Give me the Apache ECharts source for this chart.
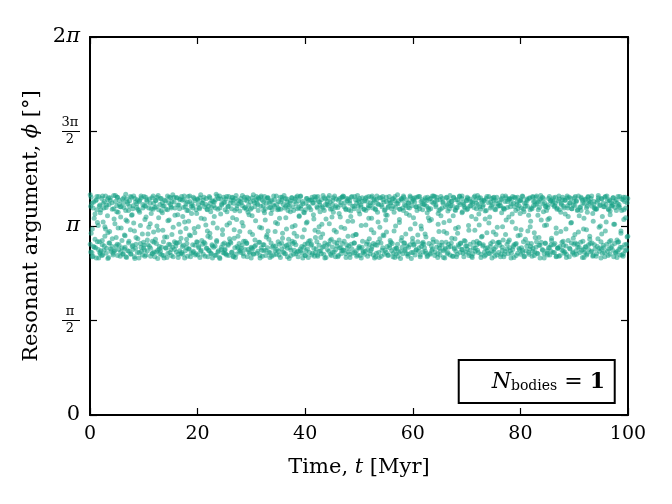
<!DOCTYPE html>
<html>
<head>
<meta charset="utf-8">
<script src="https://cdn.jsdelivr.net/npm/echarts@6/dist/echarts.min.js"></script>
<style>
  html, body { margin: 0; padding: 0; background: #fff; }
  #chart { width: 672px; height: 504px; }
</style>
</head>
<body>
<div id="chart"></div>
<script>
// output times [Myr]
const times = [
  0.04,0.13,0.21,0.36,0.42,0.57,0.66,0.78,0.93,
  1.05,1.19,1.27,1.38,1.53,1.61,1.74,1.82,1.91,
  2.03,2.17,2.28,2.34,2.44,2.58,2.67,2.76,2.89,
  3.00,3.10,3.25,3.32,3.45,3.54,3.65,3.77,3.87,
  4.08,4.14,4.29,4.41,4.48,4.63,4.71,4.86,4.97,
  5.06,5.11,5.23,5.39,5.46,5.62,5.70,5.79,5.94,
  6.07,6.18,6.31,6.40,6.52,6.64,6.68,6.80,6.92,
  7.02,7.16,7.24,7.35,7.51,7.59,7.72,7.84,7.95,
  8.01,8.12,8.26,8.33,8.47,8.55,8.69,8.81,8.88,
  9.09,9.15,9.22,9.37,9.49,9.56,9.73,9.83,9.96,
  10.04,10.13,10.21,10.36,10.42,10.57,10.66,10.78,10.93,
  11.05,11.19,11.27,11.38,11.53,11.61,11.74,11.82,11.91,
  12.03,12.17,12.28,12.34,12.44,12.58,12.67,12.76,12.89,
  13.00,13.10,13.25,13.32,13.45,13.54,13.65,13.77,13.87,
  14.08,14.14,14.29,14.41,14.48,14.63,14.71,14.86,14.97,
  15.06,15.11,15.23,15.39,15.46,15.62,15.70,15.79,15.94,
  16.07,16.18,16.31,16.40,16.52,16.64,16.68,16.80,16.92,
  17.02,17.16,17.24,17.35,17.51,17.59,17.72,17.84,17.95,
  18.01,18.12,18.26,18.33,18.47,18.55,18.69,18.81,18.88,
  19.09,19.15,19.22,19.37,19.49,19.56,19.73,19.83,19.96,
  20.04,20.13,20.21,20.36,20.42,20.57,20.66,20.78,20.93,
  21.05,21.19,21.27,21.38,21.53,21.61,21.74,21.82,21.91,
  22.03,22.17,22.28,22.34,22.44,22.58,22.67,22.76,22.89,
  23.00,23.10,23.25,23.32,23.45,23.54,23.65,23.77,23.87,
  24.08,24.14,24.29,24.41,24.48,24.63,24.71,24.86,24.97,
  25.06,25.11,25.23,25.39,25.46,25.62,25.70,25.79,25.94,
  26.07,26.18,26.31,26.40,26.52,26.64,26.68,26.80,26.92,
  27.02,27.16,27.24,27.35,27.51,27.59,27.72,27.84,27.95,
  28.01,28.12,28.26,28.33,28.47,28.55,28.69,28.81,28.88,
  29.09,29.15,29.22,29.37,29.49,29.56,29.73,29.83,29.96,
  30.04,30.13,30.21,30.36,30.42,30.57,30.66,30.78,30.93,
  31.05,31.19,31.27,31.38,31.53,31.61,31.74,31.82,31.91,
  32.03,32.17,32.28,32.34,32.44,32.58,32.67,32.76,32.89,
  33.00,33.10,33.25,33.32,33.45,33.54,33.65,33.77,33.87,
  34.08,34.14,34.29,34.41,34.48,34.63,34.71,34.86,34.97,
  35.06,35.11,35.23,35.39,35.46,35.62,35.70,35.79,35.94,
  36.07,36.18,36.31,36.40,36.52,36.64,36.68,36.80,36.92,
  37.02,37.16,37.24,37.35,37.51,37.59,37.72,37.84,37.95,
  38.01,38.12,38.26,38.33,38.47,38.55,38.69,38.81,38.88,
  39.09,39.15,39.22,39.37,39.49,39.56,39.73,39.83,39.96,
  40.04,40.13,40.21,40.36,40.42,40.57,40.66,40.78,40.93,
  41.05,41.19,41.27,41.38,41.53,41.61,41.74,41.82,41.91,
  42.03,42.17,42.28,42.34,42.44,42.58,42.67,42.76,42.89,
  43.00,43.10,43.25,43.32,43.45,43.54,43.65,43.77,43.87,
  44.08,44.14,44.29,44.41,44.48,44.63,44.71,44.86,44.97,
  45.06,45.11,45.23,45.39,45.46,45.62,45.70,45.79,45.94,
  46.07,46.18,46.31,46.40,46.52,46.64,46.68,46.80,46.92,
  47.02,47.16,47.24,47.35,47.51,47.59,47.72,47.84,47.95,
  48.01,48.12,48.26,48.33,48.47,48.55,48.69,48.81,48.88,
  49.09,49.15,49.22,49.37,49.49,49.56,49.73,49.83,49.96,
  50.04,50.13,50.21,50.36,50.42,50.57,50.66,50.78,50.93,
  51.05,51.19,51.27,51.38,51.53,51.61,51.74,51.82,51.91,
  52.03,52.17,52.28,52.34,52.44,52.58,52.67,52.76,52.89,
  53.00,53.10,53.25,53.32,53.45,53.54,53.65,53.77,53.87,
  54.08,54.14,54.29,54.41,54.48,54.63,54.71,54.86,54.97,
  55.06,55.11,55.23,55.39,55.46,55.62,55.70,55.79,55.94,
  56.07,56.18,56.31,56.40,56.52,56.64,56.68,56.80,56.92,
  57.02,57.16,57.24,57.35,57.51,57.59,57.72,57.84,57.95,
  58.01,58.12,58.26,58.33,58.47,58.55,58.69,58.81,58.88,
  59.09,59.15,59.22,59.37,59.49,59.56,59.73,59.83,59.96,
  60.04,60.13,60.21,60.36,60.42,60.57,60.66,60.78,60.93,
  61.05,61.19,61.27,61.38,61.53,61.61,61.74,61.82,61.91,
  62.03,62.17,62.28,62.34,62.44,62.58,62.67,62.76,62.89,
  63.00,63.10,63.25,63.32,63.45,63.54,63.65,63.77,63.87,
  64.08,64.14,64.29,64.41,64.48,64.63,64.71,64.86,64.97,
  65.06,65.11,65.23,65.39,65.46,65.62,65.70,65.79,65.94,
  66.07,66.18,66.31,66.40,66.52,66.64,66.68,66.80,66.92,
  67.02,67.16,67.24,67.35,67.51,67.59,67.72,67.84,67.95,
  68.01,68.12,68.26,68.33,68.47,68.55,68.69,68.81,68.88,
  69.09,69.15,69.22,69.37,69.49,69.56,69.73,69.83,69.96,
  70.04,70.13,70.21,70.36,70.42,70.57,70.66,70.78,70.93,
  71.05,71.19,71.27,71.38,71.53,71.61,71.74,71.82,71.91,
  72.03,72.17,72.28,72.34,72.44,72.58,72.67,72.76,72.89,
  73.00,73.10,73.25,73.32,73.45,73.54,73.65,73.77,73.87,
  74.08,74.14,74.29,74.41,74.48,74.63,74.71,74.86,74.97,
  75.06,75.11,75.23,75.39,75.46,75.62,75.70,75.79,75.94,
  76.07,76.18,76.31,76.40,76.52,76.64,76.68,76.80,76.92,
  77.02,77.16,77.24,77.35,77.51,77.59,77.72,77.84,77.95,
  78.01,78.12,78.26,78.33,78.47,78.55,78.69,78.81,78.88,
  79.09,79.15,79.22,79.37,79.49,79.56,79.73,79.83,79.96,
  80.04,80.13,80.21,80.36,80.42,80.57,80.66,80.78,80.93,
  81.05,81.19,81.27,81.38,81.53,81.61,81.74,81.82,81.91,
  82.03,82.17,82.28,82.34,82.44,82.58,82.67,82.76,82.89,
  83.00,83.10,83.25,83.32,83.45,83.54,83.65,83.77,83.87,
  84.08,84.14,84.29,84.41,84.48,84.63,84.71,84.86,84.97,
  85.06,85.11,85.23,85.39,85.46,85.62,85.70,85.79,85.94,
  86.07,86.18,86.31,86.40,86.52,86.64,86.68,86.80,86.92,
  87.02,87.16,87.24,87.35,87.51,87.59,87.72,87.84,87.95,
  88.01,88.12,88.26,88.33,88.47,88.55,88.69,88.81,88.88,
  89.09,89.15,89.22,89.37,89.49,89.56,89.73,89.83,89.96,
  90.04,90.13,90.21,90.36,90.42,90.57,90.66,90.78,90.93,
  91.05,91.19,91.27,91.38,91.53,91.61,91.74,91.82,91.91,
  92.03,92.17,92.28,92.34,92.44,92.58,92.67,92.76,92.89,
  93.00,93.10,93.25,93.32,93.45,93.54,93.65,93.77,93.87,
  94.08,94.14,94.29,94.41,94.48,94.63,94.71,94.86,94.97,
  95.06,95.11,95.23,95.39,95.46,95.62,95.70,95.79,95.94,
  96.07,96.18,96.31,96.40,96.52,96.64,96.68,96.80,96.92,
  97.02,97.16,97.24,97.35,97.51,97.59,97.72,97.84,97.95,
  98.01,98.12,98.26,98.33,98.47,98.55,98.69,98.81,98.88,
  99.09,99.15,99.22,99.37,99.49,99.56,99.73,99.83,99.96
];

// resonant argument [rad], first sample at each output time
const phiA = [
  3.66,2.71,3.02,3.52,2.63,3.44,2.80,3.27,2.92,
  2.78,3.58,3.63,2.88,3.15,2.61,3.47,2.70,3.36,
  3.41,2.65,2.83,3.64,3.21,2.74,3.55,2.97,3.09,
  2.69,3.49,3.31,2.60,3.61,2.86,3.05,3.57,2.76,
  3.53,2.93,2.66,3.43,2.72,3.18,3.65,2.81,3.38,
  2.84,3.62,3.11,2.75,3.50,2.64,3.29,3.46,2.90,
  3.59,2.68,3.45,2.99,2.79,3.67,3.24,2.62,3.54,
  2.73,3.40,2.89,3.56,3.08,2.67,3.62,3.33,2.82,
  3.48,3.19,2.63,3.60,2.77,2.95,3.51,2.70,3.42,
  2.61,3.55,3.37,2.85,3.64,2.72,3.01,3.44,2.78,
  3.63,2.74,3.25,3.47,2.66,3.58,2.91,2.83,3.12,
  2.80,3.52,2.64,3.35,3.61,2.69,3.42,3.04,2.87,
  3.45,2.92,3.57,2.71,3.14,2.60,3.65,3.28,2.76,
  2.68,3.60,3.39,2.79,3.53,3.07,2.65,3.48,2.96,
  3.56,2.77,2.62,3.41,3.23,2.84,3.62,2.70,3.50,
  2.75,3.44,3.00,3.66,2.63,3.54,2.88,3.32,2.81,
  3.61,2.86,3.49,2.67,3.17,3.43,2.73,3.59,2.94,
  2.70,3.57,3.30,2.82,3.64,2.61,3.46,3.10,2.78,
  3.40,2.64,3.63,3.22,2.76,3.55,2.98,2.69,3.51,
  2.83,3.48,2.72,3.60,3.03,2.66,3.41,3.35,2.87,
  3.58,3.13,2.80,3.45,2.62,3.66,2.74,2.90,3.52,
  2.67,3.62,3.26,2.85,3.50,2.77,3.42,3.06,2.63,
  3.47,2.73,3.61,2.95,3.38,2.68,3.56,2.81,3.19,
  2.79,3.54,2.65,3.44,3.67,2.88,3.11,2.71,3.60,
  3.64,2.60,3.34,2.75,3.49,3.00,2.84,3.53,2.69,
  2.74,3.41,3.59,2.66,3.16,3.46,2.82,3.63,2.93,
  3.52,2.86,2.70,3.62,3.28,2.64,3.57,3.08,2.78,
  2.62,3.65,3.43,2.80,2.97,3.51,2.72,3.39,3.55,
  3.60,2.77,3.20,3.48,2.68,2.89,3.62,2.75,3.45,
  2.85,3.56,2.63,3.37,3.60,2.71,3.04,3.42,2.79,
  3.44,3.31,2.76,3.66,2.67,3.53,2.91,2.82,3.58,
  2.69,3.50,3.61,2.87,3.12,2.61,3.47,3.64,2.74,
  3.57,2.83,3.40,2.73,3.63,3.24,2.65,3.52,2.99,
  2.78,3.61,2.92,3.45,2.70,3.55,3.35,2.64,3.41,
  3.49,2.66,3.58,3.05,2.81,3.64,2.75,3.18,3.44,
  2.72,3.42,3.27,2.62,3.54,2.86,3.62,2.94,3.50,
  3.65,2.80,2.68,3.47,3.09,3.59,2.77,3.40,2.84,
  2.60,3.53,3.38,2.74,3.61,2.89,3.46,2.67,3.02,
  3.55,3.15,2.83,3.62,2.71,3.43,2.63,3.56,3.30,
  2.76,3.64,3.48,2.69,2.96,3.51,2.79,3.36,2.65,
  3.41,2.73,3.60,3.21,2.85,2.62,3.57,3.45,2.90,
  2.82,3.58,2.66,3.52,3.33,2.77,3.63,3.07,2.70,
  3.62,2.88,3.44,2.64,3.55,3.13,2.72,3.49,2.95,
  2.68,3.46,3.01,3.65,2.80,3.40,2.61,3.59,3.26,
  3.50,2.75,3.61,2.84,3.18,3.54,2.67,2.92,3.43,
  2.79,3.57,3.37,2.71,3.64,2.63,3.48,3.04,2.86,
  3.45,2.65,2.91,3.60,3.29,2.78,3.53,2.73,3.62,
  2.74,3.63,3.46,3.10,2.68,3.41,2.83,3.56,2.97,
  3.59,2.81,3.52,2.62,3.39,3.62,2.76,3.22,2.69,
  2.86,3.43,2.70,3.58,3.00,2.64,3.65,3.47,2.78,
  3.54,3.34,2.77,3.49,2.61,3.61,2.89,2.72,3.42,
  2.67,3.60,3.16,2.84,3.55,2.75,3.44,3.63,2.93,
  3.48,2.73,3.62,3.27,2.80,3.52,2.66,3.03,3.57,
  2.83,3.41,2.69,3.64,3.37,2.87,3.50,2.62,3.12,
  3.61,2.64,3.46,2.78,3.58,2.98,3.40,2.74,3.24,
  2.70,3.55,3.32,2.65,3.47,3.63,2.82,2.90,3.53,
  3.43,2.85,2.63,3.60,3.06,2.76,3.56,3.45,2.68,
  2.77,3.66,3.51,2.71,3.20,3.42,2.60,3.59,2.95,
  3.57,2.68,3.40,3.62,2.86,2.73,3.48,3.35,2.81,
  2.64,3.52,2.79,3.44,3.64,3.09,2.70,3.55,2.88,
  3.60,3.28,2.84,3.54,2.66,3.46,2.75,3.62,2.99,
  2.72,3.47,3.63,2.63,3.14,2.80,3.58,3.41,2.87,
  3.50,2.78,3.01,3.61,2.69,3.56,3.36,2.65,3.44,
  2.85,3.59,2.67,3.43,3.25,2.74,3.64,2.92,3.52,
  3.63,2.71,3.49,2.88,3.57,2.62,3.17,3.40,2.77,
  2.66,3.42,3.31,2.82,3.60,3.54,2.73,3.05,2.61,
  3.46,2.87,3.62,2.68,3.39,2.79,3.51,3.23,3.65,
  2.80,3.55,2.94,3.48,2.64,3.61,2.76,3.41,3.10,
  3.58,2.63,3.45,3.02,2.83,3.53,3.63,2.70,2.86,
  2.75,3.64,3.38,2.69,3.50,2.90,3.44,2.81,3.57,
  3.41,2.76,3.60,3.15,2.65,3.47,2.84,3.55,3.30,
  2.62,3.52,2.78,3.62,3.07,2.72,3.58,3.43,2.89,
  3.65,2.70,3.34,2.86,3.46,3.61,2.67,2.96,3.54,
  2.81,3.49,3.57,2.64,3.26,2.77,3.40,3.63,2.73,
  3.53,3.19,2.68,3.44,2.85,3.60,2.61,3.50,3.04,
  2.71,3.62,3.42,2.79,3.56,2.66,3.12,3.47,2.87,
  3.48,2.82,2.63,3.58,3.36,2.74,3.64,2.91,3.43,
  2.67,3.55,3.00,3.61,2.76,3.45,2.88,3.29,3.59,
  3.60,2.73,3.51,2.69,3.21,3.63,2.80,2.62,3.46,
  2.84,3.40,2.65,3.54,3.62,2.98,3.48,2.75,3.35,
  3.56,3.08,2.78,3.64,2.70,3.42,2.63,3.52,2.92,
  2.73,3.59,3.47,2.86,3.32,2.67,3.61,3.13,2.80,
  3.44,2.64,3.63,2.77,3.55,3.03,2.71,3.49,3.62,
  2.88,3.51,2.68,3.41,2.95,3.57,2.82,3.65,3.24,
  3.62,2.74,3.38,2.61,3.53,2.85,3.46,3.16,2.69,
  2.66,3.45,3.60,3.27,2.79,3.56,2.72,2.94,3.50,
  3.54,2.83,2.70,3.48,3.62,3.11,2.64,3.42,2.77,
  2.78,3.64,3.41,2.65,3.05,3.52,2.87,3.58,2.73,
  3.47,2.69,3.57,3.34,2.81,2.62,3.61,3.44,2.90,
  2.63,3.53,2.76,3.60,3.20,3.43,2.71,3.49,2.84,
  3.61,3.00,2.86,3.55,2.67,3.40,2.79,3.64,3.31,
  2.70,3.46,3.62,2.74,3.57,2.89,3.09,2.62,3.51,
  3.58,2.80,3.44,2.66,3.37,3.63,2.75,3.52,2.97,
  2.85,3.60,2.72,3.47,2.64,3.22,3.55,2.83,3.42,
  3.43,2.68,3.54,2.93,3.65,2.77,3.48,3.14,2.61,
  2.76,3.59,3.30,2.82,3.46,2.70,3.62,3.06,3.50,
  3.64,2.72,2.65,3.41,2.88,3.56,3.39,2.78,3.53,
  2.81,3.50,3.61,2.63,3.17,3.45,2.69,3.58,2.91,
  3.52,2.87,3.47,2.75,3.63,2.66,3.02,3.40,2.79,
  2.64,3.62,3.25,3.55,2.73,3.44,2.84,2.96,3.60
];

// resonant argument [rad], second sample at each output time
const phiB = [
  2.84,3.47,3.62,2.70,3.09,2.64,3.54,2.79,3.34,
  3.56,2.61,3.41,3.20,2.75,3.63,2.88,3.49,2.68,
  2.73,3.60,2.90,2.66,3.52,3.44,2.81,3.13,3.64,
  3.45,2.77,3.58,3.03,2.62,3.50,2.86,3.61,2.72,
  2.80,3.42,2.69,3.65,3.26,2.74,3.55,2.95,3.48,
  3.62,2.65,3.37,2.83,3.57,3.46,2.71,3.11,2.78,
  2.67,3.53,3.61,2.76,2.98,3.40,2.63,3.59,3.22,
  3.51,2.86,2.72,3.47,3.63,2.68,3.32,2.80,3.43,
  2.75,3.64,3.06,2.60,3.54,2.84,3.45,3.58,2.93,
  3.40,2.70,3.57,3.15,2.79,3.61,2.66,3.50,2.87,
  2.82,3.48,2.64,3.62,3.29,3.55,2.73,3.01,3.44,
  3.59,3.18,2.77,3.43,2.68,2.89,3.64,3.52,2.71,
  2.63,3.56,3.46,2.85,3.62,2.74,3.07,3.41,2.80,
  3.50,2.72,3.60,2.66,3.36,3.47,2.88,2.61,3.57,
  2.78,3.42,2.96,3.64,2.69,3.53,3.24,2.83,3.61,
  3.46,2.65,3.55,2.79,3.12,3.62,2.75,3.44,2.86,
  2.71,3.61,3.33,2.62,3.49,2.87,3.58,3.04,2.68,
  3.63,2.80,2.67,3.45,3.58,3.21,2.73,3.51,2.92,
  2.85,3.54,3.40,2.76,2.99,3.64,2.63,3.47,3.35,
  3.44,2.70,3.62,3.10,2.82,3.56,2.68,2.88,3.59,
  2.66,3.50,2.78,3.43,3.61,2.72,3.27,3.53,2.84,
  3.57,2.87,3.46,2.64,3.16,3.60,2.77,3.41,2.97,
  2.74,3.63,3.02,3.52,2.69,3.45,2.83,2.61,3.55,
  3.48,3.30,2.81,3.58,2.66,2.90,3.64,3.42,2.73,
  2.62,3.44,3.59,2.79,3.51,3.08,2.70,3.62,2.86,
  3.54,2.76,2.68,3.63,3.38,2.84,3.47,2.65,3.19,
  2.88,3.57,3.43,2.71,3.61,2.63,3.52,2.94,3.40,
  3.60,2.67,3.25,3.48,2.78,3.56,2.85,3.05,2.74,
  2.70,3.53,2.82,3.65,3.14,2.64,3.44,3.58,2.89,
  3.42,2.86,3.62,2.75,3.49,3.33,2.69,3.54,2.61,
  2.77,3.61,3.00,2.68,3.56,2.80,3.46,3.23,3.63,
  3.52,2.72,3.40,3.59,2.87,2.65,3.62,2.78,3.11,
  2.64,3.48,3.55,2.83,3.36,3.43,2.74,2.96,3.60,
  3.61,3.06,2.70,3.53,2.62,3.45,2.86,3.57,2.79,
  2.81,3.64,3.47,2.73,3.20,2.67,3.50,3.41,2.88,
  3.55,2.66,2.84,3.62,3.42,2.76,3.58,3.02,2.71,
  2.69,3.44,3.60,3.28,2.82,3.54,2.63,3.49,2.92,
  3.46,2.78,3.56,2.65,3.61,3.13,2.85,3.40,2.74,
  2.87,3.59,2.68,3.51,2.97,3.64,2.72,3.45,3.31,
  3.63,2.73,3.43,2.80,3.55,2.61,3.37,3.08,2.84,
  2.65,3.52,3.19,3.60,2.76,3.47,2.89,2.70,3.57,
  3.41,2.84,3.62,2.69,3.53,3.26,2.64,3.58,2.95,
  2.76,3.46,2.66,3.63,3.04,2.82,3.54,3.38,2.73,
  3.58,3.17,2.79,3.44,2.67,3.61,2.86,3.50,2.62,
  2.83,3.55,3.48,2.72,3.65,2.90,3.42,2.65,3.29,
  3.50,2.70,3.61,3.07,2.87,3.45,2.75,3.59,2.81,
  2.63,3.57,3.35,2.78,3.49,2.68,3.12,3.62,2.85,
  3.64,2.74,2.89,3.53,3.43,2.62,3.60,2.77,3.22,
  2.71,3.41,3.56,2.67,3.30,2.84,3.63,3.47,2.98,
  3.47,2.86,3.63,3.00,2.73,3.52,2.66,3.57,3.39,
  2.80,3.60,2.65,3.46,3.15,2.79,3.55,2.70,3.42,
  3.56,2.72,3.40,3.62,2.88,2.64,3.48,3.27,2.83,
  2.68,3.53,3.08,2.76,3.64,3.44,2.85,3.59,2.61,
  3.43,2.63,3.58,2.82,3.51,3.21,2.70,3.61,2.93,
  2.86,3.49,2.74,3.63,2.99,3.54,2.67,3.41,3.33,
  3.62,3.04,2.80,3.45,2.66,3.57,2.78,3.52,2.87,
  2.73,3.59,3.47,2.69,3.37,2.62,3.63,3.14,2.77,
  3.52,2.84,2.64,3.56,3.25,3.42,2.72,2.90,3.60,
  2.79,3.44,3.64,2.86,3.50,2.75,3.01,3.58,2.68,
  3.45,2.67,3.53,3.32,2.83,3.62,2.60,3.48,2.94,
  2.70,3.57,2.82,3.61,3.18,2.74,3.46,3.40,2.88,
  3.63,2.78,3.43,2.66,3.55,3.09,2.85,3.51,2.71,
  2.84,3.50,3.58,2.72,2.96,3.47,2.63,3.62,3.28,
  3.41,3.23,2.69,3.60,2.81,3.54,2.76,2.87,3.64,
  2.65,3.55,3.46,2.79,3.62,2.68,3.35,3.05,2.82,
  3.58,2.73,3.63,2.87,3.44,3.52,2.62,3.20,2.75,
  2.77,3.61,3.02,3.49,2.70,2.84,3.57,3.43,2.66,
  3.48,2.86,3.55,2.64,3.31,3.62,2.78,2.93,3.40,
  2.72,3.45,2.67,3.58,3.12,2.80,3.64,3.50,2.85,
  3.60,3.36,2.75,3.53,2.63,3.46,2.89,2.71,3.56,
  2.81,3.62,3.43,2.69,3.07,3.59,2.74,3.48,2.64,
  3.54,2.68,2.87,3.45,3.64,2.77,3.26,3.52,2.83,
  2.74,3.50,3.61,3.16,2.85,3.42,2.62,3.57,2.97,
  3.46,2.83,3.56,2.71,3.39,2.66,3.60,3.03,2.78,
  2.69,3.63,3.29,2.80,3.54,3.47,2.73,2.88,3.61,
  3.57,2.76,2.64,3.41,3.00,3.62,2.86,3.51,2.70,
  2.87,3.53,3.48,2.67,3.60,2.79,3.13,3.44,2.63,
  3.42,2.72,3.64,3.24,2.84,3.55,2.68,3.58,2.91,
  2.78,3.46,2.61,3.59,3.34,2.75,3.52,2.83,3.62,
  3.61,3.10,2.85,3.50,2.69,3.43,2.77,3.56,2.99,
  2.67,3.58,3.44,2.74,3.63,2.88,3.38,2.64,3.47,
  3.53,2.81,3.57,3.06,2.70,3.60,2.76,3.41,3.22,
  2.85,3.43,2.72,3.62,3.48,2.65,3.55,2.95,2.79,
  3.64,2.69,3.32,3.54,2.82,3.45,2.61,3.59,2.87,
  2.75,3.51,3.60,2.68,3.15,2.86,3.47,3.40,2.73,
  3.49,3.25,2.78,3.63,2.66,3.56,2.83,2.90,3.58,
  2.70,3.61,3.46,2.85,3.53,2.63,3.02,3.44,2.77,
  3.56,2.64,3.59,2.80,3.37,3.50,2.74,3.62,2.89,
  2.82,3.44,2.71,3.57,3.09,2.67,3.64,3.48,3.30,
  3.62,2.77,3.52,3.19,2.86,3.43,2.69,2.94,3.55,
  2.66,3.48,3.63,2.73,3.56,2.84,3.41,3.04,2.79,
  3.45,2.87,3.40,3.60,2.62,3.53,2.75,3.27,2.70,
  2.79,3.59,3.08,2.68,3.47,3.62,2.83,3.55,2.92,
  3.54,2.71,3.64,2.86,3.35,2.65,3.50,3.44,2.76,
  2.64,3.42,2.80,3.57,3.61,3.12,2.72,3.49,2.88,
  3.60,3.01,2.69,3.52,2.78,3.46,2.63,3.63,3.21,
  2.84,3.56,3.43,2.76,3.58,2.67,3.33,2.90,3.48,
  3.47,2.74,3.61,3.17,2.85,3.55,2.70,3.40,2.62,
  2.72,3.63,2.88,3.50,3.45,2.79,3.06,3.59,2.66,
  3.58,2.68,3.41,2.83,3.62,3.28,2.75,3.53,2.97
];

const xTicks = [0, 20, 40, 60, 80, 100];
// y tick labels at 0, π/2, π, 3π/2, 2π
const yTickLabels = ['{big|0}', '{num|π}\n{bar| }\n{den|2}', '{pi|π}', '{num|3π}\n{bar| }\n{den|2}', '{big|2}{pi|π}'];

const points = [];
[phiA, phiB].forEach((phi) => {
  for (let i = 0; i < Math.min(times.length, phi.length); i++) {
    points.push([times[i], phi[i]]);
  }
});

const serif = 'DejaVu Serif';
const chart = echarts.init(document.getElementById('chart'), null, { renderer: 'canvas' });

const axisLine = { show: true, onZero: false, lineStyle: { color: '#000', width: 2 } };
const axisTick = { show: true, inside: true, length: 7, lineStyle: { color: '#000', width: 1.2 } };

chart.setOption({
  backgroundColor: '#fff',
  animation: false,
  grid: { left: 90, right: 44, top: 37, bottom: 89 },
  title: {
    text: '{n|N}{s|bodies}{e| = }{b|1}',
    right: 57,
    top: 354,
    padding: [11, 10, 10, 33],
    borderColor: '#000',
    borderWidth: 2,
    textStyle: {
      fontWeight: 'normal',
      rich: {
        n: { fontFamily: serif, fontSize: 22, fontStyle: 'italic', fontWeight: 'normal', color: '#000', lineHeight: 28, verticalAlign: 'bottom' },
        s: { fontFamily: serif, fontSize: 14, fontWeight: 'normal', color: '#000', lineHeight: 12, verticalAlign: 'bottom' },
        e: { fontFamily: serif, fontSize: 22, fontWeight: 'normal', color: '#000', lineHeight: 28, verticalAlign: 'bottom' },
        b: { fontFamily: serif, fontSize: 22, fontWeight: 'bold', color: '#000', lineHeight: 28, verticalAlign: 'bottom' }
      }
    }
  },
  xAxis: [
    {
      type: 'value',
      min: 0,
      max: 100,
      interval: 20,
      name: 'Time, {i|t} [Myr]',
      nameLocation: 'middle',
      nameGap: 42,
      nameTextStyle: {
        fontFamily: serif, fontSize: 21, color: '#000',
        rich: { i: { fontFamily: serif, fontSize: 21, fontStyle: 'italic', color: '#000' } }
      },
      axisLine,
      axisTick,
      splitLine: { show: false },
      axisLabel: {
        margin: 10,
        fontFamily: serif,
        fontSize: 19,
        color: '#000',
        formatter: (v) => (xTicks.includes(v) ? String(v) : '')
      }
    },
    {
      type: 'value',
      position: 'top',
      min: 0,
      max: 100,
      interval: 20,
      axisLine,
      axisTick,
      splitLine: { show: false },
      axisLabel: { show: false }
    }
  ],
  yAxis: [
    {
      type: 'value',
      min: 0,
      max: 2 * Math.PI,
      interval: Math.PI / 2,
      name: 'Resonant argument, {i|ϕ} [°]',
      nameLocation: 'middle',
      nameGap: 44,
      nameTextStyle: {
        fontFamily: serif, fontSize: 21, color: '#000',
        rich: { i: { fontFamily: serif, fontSize: 21, fontStyle: 'italic', color: '#000' } }
      },
      axisLine,
      axisTick,
      splitLine: { show: false },
      axisLabel: {
        margin: 10,
        color: '#000',
        formatter: (v) => yTickLabels[Math.round(v / (Math.PI / 2))] || '',
        rich: {
          big: { fontFamily: serif, fontSize: 21, color: '#000' },
          pi: { fontFamily: serif, fontSize: 21, fontStyle: 'italic', color: '#000' },
          num: { fontFamily: serif, fontSize: 13, color: '#000', width: 20, align: 'center', lineHeight: 14 },
          bar: { width: 18, height: 1, lineHeight: 3, fontSize: 1, backgroundColor: '#000' },
          den: { fontFamily: serif, fontSize: 13, color: '#000', width: 20, align: 'center', lineHeight: 14 }
        }
      }
    },
    {
      type: 'value',
      position: 'right',
      min: 0,
      max: 2 * Math.PI,
      interval: Math.PI / 2,
      axisLine,
      axisTick,
      splitLine: { show: false },
      axisLabel: { show: false }
    }
  ],
  series: [
    {
      type: 'scatter',
      xAxisIndex: 0,
      yAxisIndex: 0,
      symbol: 'circle',
      symbolSize: 5,
      itemStyle: { color: '#16a085', opacity: 0.55 },
      data: points
    }
  ]
});
</script>
</body>
</html>
